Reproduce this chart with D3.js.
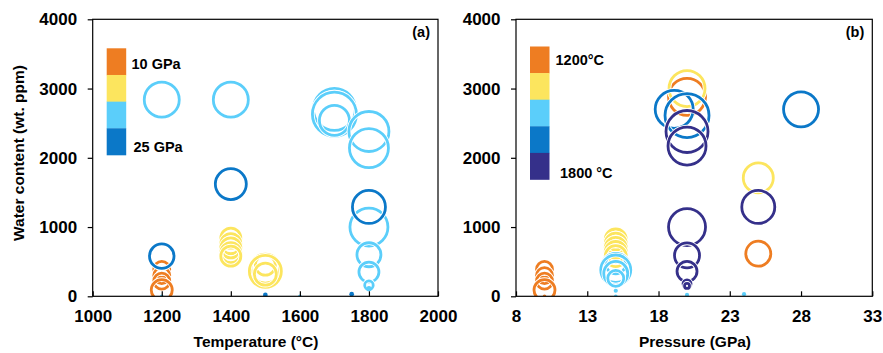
<!DOCTYPE html>
<html>
<head>
<meta charset="utf-8">
<script src="https://cdn.jsdelivr.net/npm/d3@7"></script>
<style>
  body { margin: 0; background: #fff; }
  svg { display: block; font-family: "Liberation Sans", Arial, sans-serif; font-weight: bold; }
  .axis path, .axis line { stroke: #000; stroke-width: 1.2; }
  .axis text { font-size: 17px; font-weight: bold; fill: #000; }
</style>
</head>
<body>
<div id="chart"></div>
<script>
// categories
const pressureGroups = ["10 GPa", "15 GPa", "20 GPa", "25 GPa"];
const pressureColors = ["#EE7D22", "#FCE55E", "#5BCEFA", "#0B78C8"];
const tempGroups = ["1200", "1400", "1500", "1700", "1800"];
const tempColors = ["#EE7D22", "#FCE55E", "#5BCEFA", "#0B78C8", "#35308A"];

const waterTicks = [0, 1000, 2000, 3000, 4000];
const tempTicks = [1000, 1200, 1400, 1600, 1800, 2000];
const pressTicks = [8, 13, 18, 23, 28, 33];

// panel (a): temperature, water, bubble size, pressure group
const pointsA = [
    [1200, 390, 32, 0], [1200, 300, 32, 0], [1200, 220, 32, 0], [1200, 90, 42, 0],
    [1400, 840, 40, 1], [1400, 760, 40, 1], [1400, 700, 40, 1], [1400, 630, 40, 1], [1400, 580, 40, 1],
    [1500, 450, 40, 1], [1500, 400, 58, 1], [1500, 360, 64, 1], [1500, 320, 44, 1],
    [1200, 2840, 70, 2], [1400, 2840, 70, 2],
    [1700, 2700, 84, 2], [1700, 2630, 88, 2], [1700, 2540, 60, 2],
    [1800, 2380, 80, 2], [1800, 2140, 78, 2],
    [1800, 1000, 76, 2], [1800, 600, 48, 2], [1800, 350, 40, 2], [1800, 160, 17, 2], [1800, 110, 8, 2],
    [1200, 0, 5, 2], [1600, 0, 5, 2],
    [1200, 580, 49, 3], [1400, 1620, 62, 3], [1800, 1290, 66, 3], [1500, 20, 7, 3], [1750, 30, 7, 3]
];

// panel (b): pressure, water, bubble size, temperature group
const pointsB = [
    [10, 390, 32, 0], [10, 300, 32, 0], [10, 220, 32, 0], [10, 90, 42, 0], [10, 0, 5, 0],
    [20, 2880, 74, 0], [25, 615, 50, 0],
    [15, 820, 42, 1], [15, 760, 42, 1], [15, 700, 42, 1], [15, 640, 42, 1], [15, 580, 42, 1],
    [20, 3000, 72, 1], [25, 1710, 60, 1],
    [15, 470, 40, 2], [15, 410, 58, 2], [15, 380, 60, 2], [15, 330, 48, 2], [15, 260, 32, 2],
    [15, 80, 6, 2], [15, 0, 5, 2], [20, 20, 6, 2], [24, 30, 6, 2],
    [19.1, 2700, 76, 3], [20, 2610, 88, 3], [28, 2700, 70, 3],
    [20, 2380, 84, 4], [20, 2170, 76, 4], [20, 1000, 74, 4], [20, 590, 50, 4], [20, 360, 40, 4],
    [20, 180, 16, 4], [20, 150, 10, 4], [25, 1290, 66, 4]
];

const width = 883, height = 353;
const plotTop = 19.3, plotBottom = 296.3;

const svg = d3.select("#chart").append("svg")
    .attr("width", width)
    .attr("height", height);

const yScale = d3.scaleLinear().domain([0, 4000]).range([plotBottom, plotTop]);
const rScale = d3.scaleLinear().domain([0, 100]).range([0, 25]);

function drawPanel(opts) {
    const x = d3.scaleLinear().domain(opts.domain).range([opts.left, opts.right]);
    const g = svg.append("g");

    g.append("clipPath").attr("id", "clip-" + opts.id)
        .append("rect")
        .attr("x", opts.left).attr("y", plotTop)
        .attr("width", opts.right - opts.left).attr("height", plotBottom - plotTop);

    // bubbles: white halo + coloured ring, in series order
    const marks = g.append("g").attr("clip-path", `url(#clip-${opts.id})`);
    opts.points.forEach(p => {
        const cx = x(p[0]), cy = yScale(p[1]), r = rScale(p[2]);
        const col = opts.colors[p[3]];
        if (r < 2.5) {
            marks.append("circle").attr("cx", cx).attr("cy", cy).attr("r", r + 0.6)
                .attr("fill", col);
            return;
        }
        marks.append("circle").attr("cx", cx).attr("cy", cy).attr("r", r)
            .attr("fill", "none").attr("stroke", "#fff").attr("stroke-width", 4.6);
        marks.append("circle").attr("cx", cx).attr("cy", cy).attr("r", r)
            .attr("fill", "none").attr("stroke", col).attr("stroke-width", 2.8);
    });

    // frame
    g.append("rect")
        .attr("x", opts.left).attr("y", plotTop)
        .attr("width", opts.right - opts.left).attr("height", plotBottom - plotTop)
        .attr("fill", "none").attr("stroke", "#000").attr("stroke-width", 1.2);

    g.append("g").attr("class", "axis")
        .attr("transform", `translate(0,${plotBottom})`)
        .call(d3.axisBottom(x).tickValues(opts.ticks).tickFormat(d3.format("d"))
            .tickSizeInner(-5).tickSizeOuter(0).tickPadding(14));

    g.append("g").attr("class", "axis")
        .attr("transform", `translate(${opts.left},0)`)
        .call(d3.axisLeft(yScale).tickValues(waterTicks).tickFormat(d3.format("d"))
            .tickSizeInner(5).tickSizeOuter(0).tickPadding(10.5));

    g.selectAll(".axis .domain").remove();

    g.append("text")
        .attr("x", opts.titleX).attr("y", 347)
        .attr("text-anchor", "middle")
        .style("font-size", "15.5px")
        .text(opts.title);

    g.append("text")
        .attr("x", opts.right - 8).attr("y", 36.5)
        .attr("text-anchor", "end")
        .style("font-size", "14.5px")
        .text(opts.label);

    // colour bar legend
    const band = d3.scaleBand().domain(opts.colors).range([opts.barTop, opts.barBottom]);
    g.selectAll(".bar").data(opts.colors).enter().append("rect")
        .attr("x", opts.left + 14).attr("y", d => band(d))
        .attr("width", 19.5).attr("height", band.bandwidth() + 0.3)
        .attr("fill", d => d);

    opts.legendText.forEach(t => {
        g.append("text")
            .attr("x", t.x).attr("y", t.y)
            .style("font-size", "14.5px")
            .text(t.text);
    });
}

drawPanel({
    id: "a", domain: [1000, 2000], left: 92.7, right: 438, ticks: tempTicks,
    points: pointsA, colors: pressureColors,
    title: "Temperature (\u00B0C)", titleX: 256, label: "(a)",
    barTop: 48.3, barBottom: 155,
    legendText: [
        { text: pressureGroups[0], x: 131.5, y: 68.5 },
        { text: pressureGroups[3], x: 133.5, y: 151.5 }
    ]
});

drawPanel({
    id: "b", domain: [8, 33], left: 516, right: 872.3, ticks: pressTicks,
    points: pointsB, colors: tempColors,
    title: "Pressure (GPa)", titleX: 695, label: "(b)",
    barTop: 46.5, barBottom: 179.5,
    legendText: [
        { text: tempGroups[0] + "\u00B0C", x: 555.5, y: 65 },
        { text: tempGroups[4] + " \u00B0C", x: 560, y: 178 }
    ]
});

svg.append("text")
    .attr("transform", "translate(24,153) rotate(-90)")
    .attr("text-anchor", "middle")
    .style("font-size", "15.5px")
    .text("Water content (wt. ppm)");
</script>
</body>
</html>
